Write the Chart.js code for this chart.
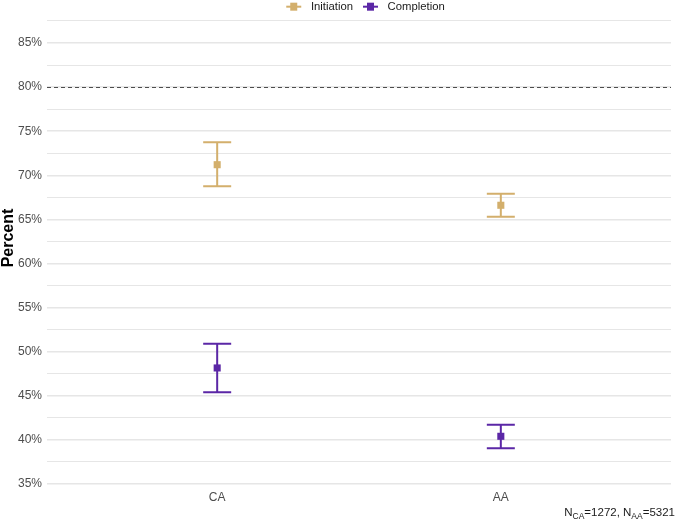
<!DOCTYPE html>
<html>
<head>
<meta charset="utf-8">
<script src="https://cdn.jsdelivr.net/npm/chart.js@4/dist/chart.umd.min.js"></script>
<style>
  html, body { margin: 0; padding: 0; background: #fff; }
  #wrap { width: 676px; height: 521px; }
</style>
</head>
<body>
<div id="wrap"><canvas id="ciChart" width="676" height="521"></canvas></div>
<script>
// data
const groups = ["CA", "AA"];
const seriesNames = ["Initiation", "Completion"];
const initiationMean = [71.2, 66.6];
const initiationLow = [68.75, 65.3];
const initiationHigh = [73.75, 67.9];
const completionMean = [48.15, 40.4];
const completionLow = [45.4, 39.05];
const completionHigh = [50.9, 41.7];
const yTickValues = [35, 37.5, 40, 42.5, 45, 47.5, 50, 52.5, 55, 57.5, 60, 62.5, 65, 67.5, 70, 72.5, 75, 77.5, 80, 82.5, 85, 87.5];
const targetLine = 80;
const sampleSizes = [["CA", 1272], ["AA", 5321]];
const yTitle = "Percent";

const tan = "#D3AF6C";
const purple = "#5B27A6";
const fontFam = "'Liberation Sans', Arial, Helvetica, sans-serif";

function toPoints(vals, lo, hi) {
  return vals.map((v, i) => ({ x: i, y: v, lo: lo[i], hi: hi[i] }));
}

// legend key: line with a square on it (left margin gives item spacing)
function legendKey(color) {
  const c = document.createElement("canvas");
  c.width = 28; c.height = 10;
  const g = c.getContext("2d");
  g.strokeStyle = color;
  g.lineWidth = 2;
  g.beginPath(); g.moveTo(9, 5); g.lineTo(24, 5); g.stroke();
  g.fillStyle = color;
  g.fillRect(13, 1, 7, 8);
  return c;
}

const errorBars = {
  id: "errorBars",
  afterLayout(chart) {
    // centre the legend over the panel, like ggplot does
    if (chart.legend) chart.legend.left = chart.chartArea.left;
  },
  beforeDatasetsDraw(chart) {
    const { ctx, scales: { x, y }, chartArea } = chart;
    ctx.save();
    // dashed reference line
    ctx.strokeStyle = "#4d4d4d";
    ctx.lineWidth = 1;
    ctx.setLineDash([4, 3]);
    const ty = Math.round(y.getPixelForValue(targetLine)) + 0.5;
    ctx.beginPath(); ctx.moveTo(chartArea.left, ty); ctx.lineTo(chartArea.right, ty); ctx.stroke();
    ctx.setLineDash([]);
    chart.data.datasets.forEach((ds) => {
      ctx.strokeStyle = ds.backgroundColor;
      ctx.lineWidth = 2;
      ds.data.forEach((p) => {
        const px = x.getPixelForValue(p.x);
        const yl = y.getPixelForValue(p.lo);
        const yh = y.getPixelForValue(p.hi);
        const half = 14;
        ctx.beginPath();
        ctx.moveTo(px, yl); ctx.lineTo(px, yh);
        ctx.moveTo(px - half, yl); ctx.lineTo(px + half, yl);
        ctx.moveTo(px - half, yh); ctx.lineTo(px + half, yh);
        ctx.stroke();
      });
    });
    ctx.restore();
  },
  afterDraw(chart) {
    const { ctx } = chart;
    ctx.save();
    // y axis title
    ctx.fillStyle = "#000";
    ctx.font = "bold 16px " + fontFam;
    ctx.textAlign = "center";
    ctx.textBaseline = "middle";
    ctx.translate(9, 238);
    ctx.rotate(-Math.PI / 2);
    ctx.fillText(yTitle, 0, 0);
    ctx.restore();

    // caption with subscripts
    ctx.save();
    ctx.fillStyle = "#1a1a1a";
    const big = "11.5px " + fontFam, small = "8.5px " + fontFam;
    const parts = [];
    sampleSizes.forEach(([g, n], i) => {
      parts.push(["N", big, 0]);
      parts.push([g, small, 3]);
      parts.push(["=" + n + (i < sampleSizes.length - 1 ? ", " : ""), big, 0]);
    });
    let total = 0;
    parts.forEach(([t, f]) => { ctx.font = f; total += ctx.measureText(t).width; });
    let cx = 675 - total;
    const base = 516;
    ctx.textBaseline = "alphabetic";
    parts.forEach(([t, f, dy]) => {
      ctx.font = f;
      ctx.fillText(t, cx, base + dy);
      cx += ctx.measureText(t).width;
    });
    ctx.restore();
  }
};

new Chart(document.getElementById("ciChart"), {
  type: "scatter",
  data: {
    datasets: [
      {
        label: seriesNames[0],
        data: toPoints(initiationMean, initiationLow, initiationHigh),
        backgroundColor: tan,
        borderColor: tan,
        pointStyle: "rect",
        pointRadius: 5,
        pointHoverRadius: 5,
        borderWidth: 0
      },
      {
        label: seriesNames[1],
        data: toPoints(completionMean, completionLow, completionHigh),
        backgroundColor: purple,
        borderColor: purple,
        pointStyle: "rect",
        pointRadius: 5,
        pointHoverRadius: 5,
        borderWidth: 0
      }
    ]
  },
  options: {
    responsive: false,
    animation: false,
    layout: { padding: { left: 0, right: 1, top: 0, bottom: 0 } },
    scales: {
      x: {
        type: "linear",
        min: -0.6,
        max: 1.6,
        afterBuildTicks: (s) => { s.ticks = groups.map((g, i) => ({ value: i })); },
        afterFit: (s) => { s.height = 34; },
        grid: { display: false, drawTicks: false },
        border: { display: false },
        ticks: {
          color: "#4d4d4d",
          font: { family: fontFam, size: 12 },
          padding: 3,
          callback: (v) => groups[v]
        }
      },
      y: {
        min: 34.65,
        max: 87.95,
        afterBuildTicks: (s) => { s.ticks = yTickValues.map((v) => ({ value: v })); },
        afterFit: (s) => { s.width = 47; },
        border: { display: false },
        grid: {
          color: "#E6E6E6",
          lineWidth: (c) => (c.tick && c.tick.value % 5 === 0 ? 1.4 : 1.1),
          drawTicks: false
        },
        ticks: {
          color: "#4d4d4d",
          font: { family: fontFam, size: 12 },
          padding: 5,
          autoSkip: false,
          callback: (v) => (v % 5 === 0 ? v + "%" : "")
        },
        title: { display: false }
      }
    },
    plugins: {
      legend: {
        position: "top",
        maxHeight: 17,
        labels: {
          usePointStyle: true,
          pointStyleWidth: 28,
          color: "#1a1a1a",
          font: { family: fontFam, size: 11.3 },
          padding: 1,
          boxHeight: 10,
          generateLabels: (chart) => {
            const items = Chart.defaults.plugins.legend.labels.generateLabels(chart);
            return items.map((it, i) => Object.assign(it, {
              pointStyle: legendKey(chart.data.datasets[i].backgroundColor)
            }));
          }
        }
      },
      tooltip: { enabled: false }
    }
  },
  plugins: [errorBars]
});
</script>
</body>
</html>
